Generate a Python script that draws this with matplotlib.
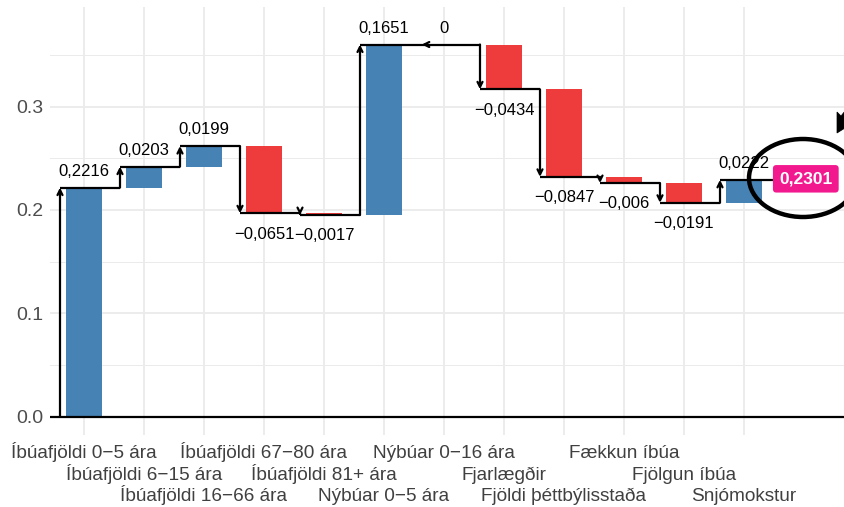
import matplotlib
matplotlib.use("Agg")
import matplotlib.pyplot as plt
from matplotlib.patches import Ellipse, Polygon
import numpy as np

plt.rcParams['font.family'] = ['Liberation Sans', 'DejaVu Sans']

categories = ["Íbúafjöldi 0−5 ára", "Íbúafjöldi 6−15 ára", "Íbúafjöldi 16−66 ára",
              "Íbúafjöldi 67−80 ára", "Íbúafjöldi 81+ ára", "Nýbúar 0−5 ára",
              "Nýbúar 0−16 ára", "Fjarlægðir", "Fjöldi þéttbýlisstaða",
              "Fækkun íbúa", "Fjölgun íbúa", "Snjómokstur"]
deltas = [0.2216, 0.0203, 0.0199, -0.0651, -0.0017, 0.1651, 0.0,
          -0.0434, -0.0847, -0.006, -0.0191, 0.0222]
total_value = 0.2301
y_ticks = [0.0, 0.1, 0.2, 0.3]
y_tick_labels = ["0.0", "0.1", "0.2", "0.3"]

BLUE = "#4682B4"
RED = "#EE3B3B"
PINK = "#F2198F"
GRID = "#EBEBEB"

W, H = 845, 507
fig = plt.figure(figsize=(W / 100, H / 100), dpi=100)
# panel: x px 50..845, y px 7..435
ax = fig.add_axes([50 / W, (H - 435) / H, (845 - 50) / W, (435 - 7) / H])
ax.set_xlim((50 - 84) / 60, (845 - 84) / 60)
ax.set_ylim((416.5 - 435) / 1033, (416.5 - 7) / 1033)

for s in ax.spines.values():
    s.set_visible(False)

x = np.arange(len(categories))
ax.set_xticks(x)
ax.set_xticklabels([])
ax.set_yticks(y_ticks)
ax.set_yticklabels(y_tick_labels, fontsize=14, color="#4D4D4D")
ax.set_yticks([0.05, 0.15, 0.25, 0.35], minor=True)
ax.tick_params(axis='both', which='both', length=0)
ax.tick_params(axis='y', pad=5)
ax.grid(True, which='major', axis='both', color=GRID, lw=1.3)
ax.grid(True, which='minor', axis='y', color=GRID, lw=0.7)
ax.set_axisbelow(True)

cum = np.cumsum(deltas)
prev = np.concatenate([[0.0], cum[:-1]])
colors = [BLUE if d >= 0 else RED for d in deltas]
ax.bar(x, deltas, bottom=prev, width=0.6, color=colors, zorder=2)

LW = 1.6
for i, (d, p, c) in enumerate(zip(deltas, prev, cum)):
    ax_x = i - 0.4
    if d == 0:
        ax.annotate('', xy=(ax_x + 0.03, c), xytext=(ax_x + 0.12, c),
                    arrowprops=dict(arrowstyle='->', lw=LW, color='black',
                                    shrinkA=0, shrinkB=0, mutation_scale=9), zorder=4)
    else:
        ax.annotate('', xy=(ax_x, c), xytext=(ax_x, p),
                    arrowprops=dict(arrowstyle='->', lw=LW, color='black',
                                    shrinkA=0, shrinkB=0, mutation_scale=9), zorder=4)
    ax.plot([ax_x, ax_x + 1.0], [c, c], color='black', lw=LW,
            solid_capstyle='butt', zorder=3)
    txt = ("−" if d < 0 else "") + f"{abs(d):g}".replace('.', ',')
    off = -18.3 if d < 0 else 8.6
    ax.annotate(txt, xy=(i, c), xytext=(0, off), textcoords='offset points',
                ha='center', va='baseline', fontsize=12, color='black', zorder=5)

ax.axhline(0, color='black', lw=1.6, zorder=3)

# dodged x labels (3 rows)
row_offsets = [16.56, 32.04, 47.52]
for i, name in enumerate(categories):
    ax.annotate(name, xy=(i, 0), xycoords=ax.get_xaxis_transform(),
                xytext=(0, -row_offsets[i % 3]), textcoords='offset points',
                ha='center', va='baseline', fontsize=13.7, color="#404040",
                annotation_clip=False)

# total label
ax.text(12.03, total_value, f"{total_value:g}".replace('.', ','), ha='center', va='center',
        fontsize=12.5, fontweight='bold', color='white', zorder=6,
        bbox=dict(boxstyle='round,pad=0.36,rounding_size=0.2', fc=PINK, ec='none'))

# hand-drawn annotation: ellipse and arrowhead
fig.add_artist(Ellipse((803 / W, 1 - 178 / H), 108 / W, 78 / H, transform=fig.transFigure,
                       fill=False, ec='black', lw=3.2, zorder=10))
pts = [(837, 112), (841, 116), (845, 111), (845, 128), (837, 133)]
fig.add_artist(Polygon([(px / W, 1 - py / H) for px, py in pts], closed=True,
                       transform=fig.transFigure, fc='black', ec='black', lw=0.5, zorder=10))

fig.savefig("out.png", dpi=100)
